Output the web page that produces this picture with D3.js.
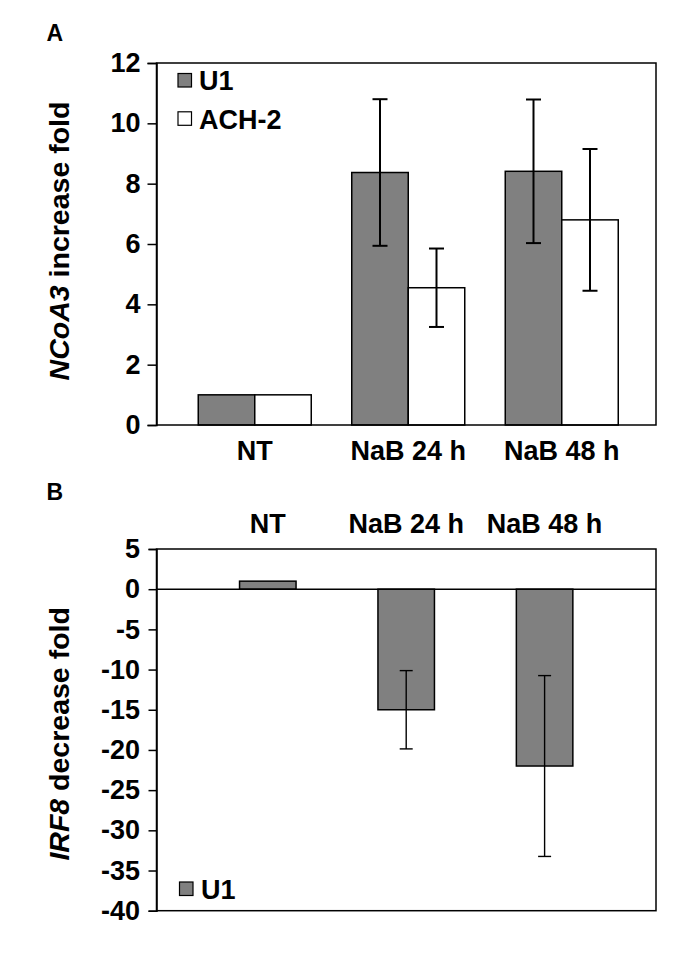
<!DOCTYPE html>
<html>
<head>
<meta charset="utf-8">
<script src="https://cdn.jsdelivr.net/npm/d3@7"></script>
<style>
  html, body { margin: 0; padding: 0; background: #fff; }
  svg { display: block; font-family: "Liberation Sans", Arial, sans-serif; font-weight: bold; }
</style>
</head>
<body>
<svg id="chart" width="685" height="959"></svg>
<script>
// ---------- data ----------
const categories = ["NT", "NaB 24 h", "NaB 48 h"];
const seriesA = ["U1", "ACH-2"];
const u1A = [1, 8.37, 8.41];
const u1AErr = [0, 2.43, 2.38];
const ach2A = [1, 4.55, 6.8];
const ach2AErr = [0, 1.3, 2.35];
const ticksA = [0, 2, 4, 6, 8, 10, 12];

const seriesB = ["U1"];
const u1B = [1, -15, -22];
const u1BErr = [0, 4.87, 11.25];
const ticksB = [5, 0, -5, -10, -15, -20, -25, -30, -35, -40];

const colors = { "U1": "#808080", "ACH-2": "#ffffff" };

const svg = d3.select("#chart");

// ================= PANEL A =================
const boxA = { left: 156.5, right: 656, top: 63, bottom: 425 };
const yA = d3.scaleLinear().domain([0, 12]).range([boxA.bottom, boxA.top]);
const xA = d3.scaleBand().domain(categories).range([178, 638.5]).padding(0);
const xAInner = d3.scaleBand().domain(seriesA).range([-56.5, 56.5]).padding(0);

const gA = svg.append("g");

// panel letter
gA.append("text").attr("x", 46.5).attr("y", 41).attr("font-size", 23).text("A");

// bars
const dataA = [];
categories.forEach((c, i) => {
  dataA.push({ cat: c, s: "U1", v: u1A[i], e: u1AErr[i] });
  dataA.push({ cat: c, s: "ACH-2", v: ach2A[i], e: ach2AErr[i] });
});

gA.selectAll("rect.bar").data(dataA).enter().append("rect")
  .attr("class", "bar")
  .attr("x", d => xA(d.cat) + xA.bandwidth() / 2 + xAInner(d.s))
  .attr("width", xAInner.bandwidth())
  .attr("y", d => yA(d.v))
  .attr("height", d => yA(0) - yA(d.v))
  .attr("fill", d => colors[d.s])
  .attr("stroke", "#000").attr("stroke-width", 1.5);

// error bars
const errA = gA.selectAll("g.err").data(dataA.filter(d => d.e > 0)).enter().append("g")
  .attr("stroke", "#000").attr("stroke-width", 2);
errA.append("line")
  .attr("x1", d => xA(d.cat) + xA.bandwidth() / 2 + xAInner(d.s) + xAInner.bandwidth() / 2)
  .attr("x2", d => xA(d.cat) + xA.bandwidth() / 2 + xAInner(d.s) + xAInner.bandwidth() / 2)
  .attr("y1", d => yA(d.v + d.e)).attr("y2", d => yA(d.v - d.e));
[1, -1].forEach(sgn => {
  errA.append("line")
    .attr("x1", d => xA(d.cat) + xA.bandwidth() / 2 + xAInner(d.s) + xAInner.bandwidth() / 2 - 7.5)
    .attr("x2", d => xA(d.cat) + xA.bandwidth() / 2 + xAInner(d.s) + xAInner.bandwidth() / 2 + 7.5)
    .attr("y1", d => yA(d.v + sgn * d.e)).attr("y2", d => yA(d.v + sgn * d.e));
});

// box
gA.append("rect")
  .attr("x", boxA.left).attr("y", boxA.top)
  .attr("width", boxA.right - boxA.left).attr("height", boxA.bottom - boxA.top)
  .attr("fill", "none").attr("stroke", "#000").attr("stroke-width", 1.5);

// y axis
const axA = gA.append("g").attr("transform", `translate(${boxA.left},0)`)
  .call(d3.axisLeft(yA).tickValues(ticksA).tickSize(9).tickPadding(7).tickFormat(d => String(d)));
axA.select(".domain").attr("stroke-width", 1.5);
axA.selectAll(".tick line").attr("stroke-width", 1.5);
axA.selectAll(".tick text").attr("font-size", 27).attr("font-family", "Liberation Sans, Arial, sans-serif").attr("font-weight", "bold").attr("fill", "#000");

// x labels
gA.selectAll("text.xlab").data(categories).enter().append("text")
  .attr("class", "xlab")
  .attr("x", d => xA(d) + xA.bandwidth() / 2)
  .attr("y", 460)
  .attr("text-anchor", "middle").attr("font-size", 27)
  .text(d => d);

// y title
const tA = gA.append("text")
  .attr("transform", `translate(69,${(boxA.top + boxA.bottom) / 2 - 3}) rotate(-90)`)
  .attr("text-anchor", "middle").attr("font-size", 28.5);
tA.append("tspan").attr("font-style", "italic").text("NCoA3");
tA.append("tspan").text(" increase fold");

// legend A
const legA = gA.selectAll("g.leg").data(seriesA).enter().append("g")
  .attr("transform", (d, i) => `translate(178,${73.5 + i * 38.3})`);
legA.append("rect").attr("width", 13.5).attr("height", 13.5)
  .attr("fill", d => colors[d]).attr("stroke", "#000").attr("stroke-width", 1.2);
legA.append("text").attr("x", 21).attr("y", 16.7).attr("font-size", 27).text(d => d);

// ================= PANEL B =================
const boxB = { left: 156.5, right: 656, top: 549, bottom: 910.7 };
const yB = d3.scaleLinear().domain([-40, 5]).range([boxB.bottom, boxB.top]);
const xB = d3.scaleBand().domain(categories).range([198.6, 613.8]).padding(0);
const barWB = 56.5;

const gB = svg.append("g");
gB.append("text").attr("x", 46.5).attr("y", 500).attr("font-size", 23).text("B");

const dataB = categories.map((c, i) => ({ cat: c, s: "U1", v: u1B[i], e: u1BErr[i] }));

gB.selectAll("rect.bar").data(dataB).enter().append("rect")
  .attr("x", d => xB(d.cat) + xB.bandwidth() / 2 - barWB / 2)
  .attr("width", barWB)
  .attr("y", d => yB(Math.max(0, d.v)))
  .attr("height", d => Math.abs(yB(d.v) - yB(0)))
  .attr("fill", colors["U1"])
  .attr("stroke", "#000").attr("stroke-width", 1.5);

const errB = gB.selectAll("g.err").data(dataB.filter(d => d.e > 0)).enter().append("g")
  .attr("stroke", "#000").attr("stroke-width", 1.4);
errB.append("line")
  .attr("x1", d => xB(d.cat) + xB.bandwidth() / 2).attr("x2", d => xB(d.cat) + xB.bandwidth() / 2)
  .attr("y1", d => yB(d.v + d.e)).attr("y2", d => yB(d.v - d.e));
[1, -1].forEach(sgn => {
  errB.append("line")
    .attr("x1", d => xB(d.cat) + xB.bandwidth() / 2 - 6.5)
    .attr("x2", d => xB(d.cat) + xB.bandwidth() / 2 + 6.5)
    .attr("y1", d => yB(d.v + sgn * d.e)).attr("y2", d => yB(d.v + sgn * d.e));
});

// box
gB.append("rect")
  .attr("x", boxB.left).attr("y", boxB.top)
  .attr("width", boxB.right - boxB.left).attr("height", boxB.bottom - boxB.top)
  .attr("fill", "none").attr("stroke", "#000").attr("stroke-width", 1.5);

// zero line
gB.append("line")
  .attr("x1", boxB.left).attr("x2", boxB.right)
  .attr("y1", yB(0)).attr("y2", yB(0))
  .attr("stroke", "#000").attr("stroke-width", 1.5);

const axB = gB.append("g").attr("transform", `translate(${boxB.left},0)`)
  .call(d3.axisLeft(yB).tickValues(ticksB).tickSize(8).tickPadding(8.5).tickFormat(d => String(d)));
axB.select(".domain").attr("stroke-width", 1.5);
axB.selectAll(".tick line").attr("stroke-width", 1.5);
axB.selectAll(".tick text").attr("font-size", 27).attr("font-family", "Liberation Sans, Arial, sans-serif").attr("font-weight", "bold").attr("fill", "#000");

// top labels
gB.selectAll("text.xlab").data(categories).enter().append("text")
  .attr("x", d => xB(d) + xB.bandwidth() / 2)
  .attr("y", 533)
  .attr("text-anchor", "middle").attr("font-size", 27)
  .text(d => d);

const tB = gB.append("text")
  .attr("transform", `translate(69,${(boxB.top + boxB.bottom) / 2 + 4}) rotate(-90)`)
  .attr("text-anchor", "middle").attr("font-size", 28.5);
tB.append("tspan").attr("font-style", "italic").text("IRF8");
tB.append("tspan").text(" decrease fold");

const legB = gB.selectAll("g.leg").data(seriesB).enter().append("g")
  .attr("transform", `translate(179.5,882)`);
legB.append("rect").attr("width", 13.5).attr("height", 13.5)
  .attr("fill", d => colors[d]).attr("stroke", "#000").attr("stroke-width", 1.2);
legB.append("text").attr("x", 21.5).attr("y", 17).attr("font-size", 27).text(d => d);
</script>
</body>
</html>
